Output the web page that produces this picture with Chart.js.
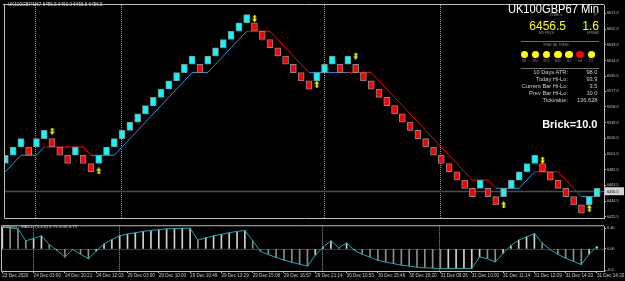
<!DOCTYPE html>
<html>
<head>
<meta charset="utf-8">
<title>UK100GBP,M67 renko</title>
<script src="https://cdn.jsdelivr.net/npm/chart.js@4.4.1/dist/chart.umd.min.js"></script>
<style>
  html, body { margin: 0; padding: 0; background: #000; }
  #wrap { position: relative; width: 625px; height: 281px; overflow: hidden; background: #000;
          font-family: "Liberation Sans", Arial, sans-serif; }
  canvas { position: absolute; left: 0; }
  #main { top: 0; }
  #osc { top: 223px; }
  .t { position: absolute; white-space: nowrap; line-height: 1; }
  .dot { position: absolute; width: 7.4px; height: 7.4px; border-radius: 50%; }
  .rule { position: absolute; height: 1px; background: #6e6e6e; }
</style>
</head>
<body>
<div id="wrap">
  <canvas id="main" width="625" height="223"></canvas>
  <canvas id="osc" width="625" height="58"></canvas>
</div>
<script>
// renko bricks (10 pts): low edge of each brick, left to right
const brickSize = 10;
const brickLow = [
  6490, 6500, 6510, 6500, 6510, 6520, 6510, 6500, 6490, 6500,
  6490, 6480, 6490, 6500, 6510, 6520, 6530, 6540, 6550, 6560,
  6570, 6580, 6590, 6600, 6610, 6600, 6610, 6620, 6630, 6640,
  6650, 6660, 6650, 6640, 6630, 6620, 6610, 6600, 6590, 6580,
  6590, 6600, 6610, 6600, 6610, 6600, 6590, 6580, 6570, 6560,
  6550, 6540, 6530, 6520, 6510, 6500, 6490, 6480, 6470, 6460,
  6450, 6460, 6450, 6440, 6450, 6460, 6470, 6480, 6490, 6480,
  6470, 6460, 6450, 6440, 6430, 6440, 6450
];

// trailing stop line and its side (1 = long / blue, -1 = short / red)
const stopLevel = [
  6480, 6490, 6500, 6500, 6500, 6510, 6510, 6510, 6510, 6510,
  6510, 6500, 6500, 6500, 6500, 6510, 6520, 6530, 6540, 6550,
  6560, 6570, 6580, 6590, 6600, 6600, 6600, 6610, 6620, 6630,
  6640, 6650, 6650, 6650, 6650, 6640, 6630, 6620, 6610, 6600,
  6600, 6600, 6600, 6600, 6600, 6600, 6600, 6600, 6590, 6580,
  6570, 6560, 6550, 6540, 6530, 6520, 6510, 6500, 6490, 6480,
  6470, 6470, 6470, 6460, 6460, 6460, 6460, 6470, 6480, 6480,
  6480, 6480, 6470, 6460, 6450, 6450, 6450
];
const stopSide = [
  1, 1, 1, 1, 1, 1,
  -1, -1, -1, -1, -1, -1,
  1, 1, 1, 1, 1, 1, 1, 1, 1, 1, 1, 1, 1, 1, 1, 1, 1, 1, 1, 1,
  -1, -1, -1, -1, -1, -1, -1, -1,
  1, 1, 1, 1, 1,
  -1, -1, -1, -1, -1, -1, -1, -1, -1, -1, -1, -1, -1, -1, -1, -1, -1, -1, -1,
  1, 1, 1, 1, 1,
  -1, -1, -1, -1, -1, -1,
  1, 1
];

// fractal arrows
const fracDownAt = [6, 32, 45, 69];
const fracDownPrice = [6529, 6665, 6620, 6494];
const fracUpAt = [12, 40, 64, 75];
const fracUpPrice = [6481, 6586, 6440, 6436];

// MACD (3,4,0) per brick
const macd = [
  6.7, 6.5, 6.2, 2.5, 3.2, 4.0, 1.3, -0.5, -2.6, -0.2,
  -1.7, -3.1, -0.7, 1.5, 2.9, 4.0, 4.6, 5.0, 5.4, 5.7,
  6.0, 6.2, 6.3, 6.4, 6.4, 2.7, 3.4, 4.0, 4.5, 5.0,
  5.4, 5.7, 2.5, -0.8, -1.8, -2.7, -3.5, -4.2, -4.8, -5.4,
  -2.0, 0.5, 2.5, 0.3, 1.8, -0.5, -1.7, -2.6, -3.6, -4.1,
  -4.6, -5.1, -5.4, -5.7, -5.9, -6.0, -6.1, -6.1, -6.1, -6.1,
  -6.1, -2.5, -3.1, -4.1, -1.4, 1.0, 2.7, 3.7, 4.7, 1.8,
  -0.2, -1.7, -2.9, -3.9, -4.9, -1.7, 0.8
];

const bidPrice = 6456.5;
const daySepAt = [4, 15, 41, 56];
const priceTicks = [6671.5, 6652.5, 6633.5, 6614.5, 6595.5, 6577.5, 6558.5,
  6539.5, 6520.5, 6501.5, 6482.5, 6463.5, 6444.5, 6425.5];
const macdTicks = [-6.6, 0, 6.4];
const macdTickLabels = ["-6.6", "0.00", "6.40"];
const timeTickAt = [0, 4, 8, 12, 16, 20, 24, 28, 32, 36, 40, 44, 48, 52, 56, 60, 64, 68, 72, 76];
const timeLabels = ["23 Dec 2020", "24 Dec 03:00", "24 Dec 10:21", "24 Dec 12:03", "29 Dec 03:00",
  "29 Dec 10:00", "29 Dec 10:49", "29 Dec 13:29", "29 Dec 15:08", "29 Dec 16:57", "29 Dec 21:14",
  "30 Dec 10:53", "30 Dec 15:46", "30 Dec 19:20", "31 Dec 09:26", "31 Dec 10:00", "31 Dec 11:14",
  "31 Dec 12:09", "31 Dec 14:20", "31 Dec 14:20"];

// info panel
const infoLabels = ["10 Days ATR:", "Today Hi-Lo:", "Current Bar Hi-Lo:", "Prev Bar Hi-Lo:", "Tickvalue:"];
const infoValues = ["98.0", "93.9", "3.5", "10.0", "136.628"];
const fractalTf = ["M1", "M5", "M15", "M30", "H1", "H4", "D1"];
const fractalTfUp = [true, true, true, true, true, false, true];

const COL = {
  up: "#00ffff",
  down: "#ff0000",
  edge: "#8a8a8a",
  stopUp: "#1e96e6",
  stopDown: "#ff0000",
  frame: "#bdbdbd",
  text: "#c8c8c8",
  sep: "#9c9c9c",
  yellow: "#ffff00",
  macdLine: "#1fa8a8",
  zero: "#c00000"
};

Chart.defaults.font.family = '"Liberation Sans", Arial, sans-serif';
Chart.defaults.animation = false;

const xMin = -0.04;
const xMax = 76.9;
const idx = brickLow.map((_, i) => i);

function arrowImg(up) {
  const c = document.createElement("canvas");
  c.width = 5;
  c.height = 7;
  const g = c.getContext("2d");
  g.fillStyle = COL.yellow;
  if (up) {
    g.translate(0, 7);
    g.scale(1, -1);
  }
  g.fillRect(2, 0, 1.4, 4.5);
  g.fillRect(0.8, 1.2, 3.6, 1);
  g.beginPath();
  g.moveTo(0, 3.8);
  g.lineTo(5, 3.8);
  g.lineTo(2.6, 7);
  g.closePath();
  g.fill();
  return c;
}

const panelPlugin = {
  id: "panel",
  beforeDatasetsDraw(chart, args, o) {
    const { ctx, chartArea: a, scales: { x, y } } = chart;
    ctx.save();
    ctx.lineWidth = 1;
    ctx.strokeStyle = COL.sep;
    ctx.setLineDash([1, 1]);
    daySepAt.forEach((i) => {
      const px = Math.round(x.getPixelForValue(i)) - 0.5;
      ctx.beginPath();
      ctx.moveTo(px, a.top);
      ctx.lineTo(px, a.bottom);
      ctx.stroke();
    });
    ctx.setLineDash([]);
    const py = Math.round(y.getPixelForValue(o.hline)) + 0.5;
    ctx.strokeStyle = o.hlineColor;
    ctx.lineWidth = o.hlineWidth || 1;
    ctx.beginPath();
    ctx.moveTo(a.left, py);
    ctx.lineTo(a.right, py);
    ctx.stroke();
    ctx.restore();
  },
  afterDraw(chart, args, o) {
    const { ctx, chartArea: a, scales: { y } } = chart;
    ctx.save();
    ctx.strokeStyle = COL.frame;
    ctx.lineWidth = 1;
    ctx.beginPath();
    ctx.moveTo(a.right, a.top - 0.5);
    ctx.lineTo(a.left - 0.5, a.top - 0.5);
    ctx.lineTo(a.left - 0.5, a.bottom + 0.5);
    ctx.lineTo(a.right, a.bottom + 0.5);
    ctx.stroke();
    if (o.tag) {
      const py = y.getPixelForValue(o.hline);
      ctx.fillStyle = "#d4d4d4";
      ctx.fillRect(a.right + 1, py - 4, 19, 8);
      ctx.fillStyle = "#000";
      ctx.font = '3.8px "Liberation Sans", Arial, sans-serif';
      ctx.textBaseline = "middle";
      ctx.fillText(o.tag, a.right + 3, py + 0.3);
    }
    ctx.restore();
  }
};

function rightAxis(min, max, values, fmt) {
  return {
    position: "right",
    min,
    max,
    afterBuildTicks: (s) => { s.ticks = values.map((v) => ({ value: v })); },
    afterFit: (s) => { s.width = 21; },
    ticks: { color: COL.text, font: { size: 3.8 }, padding: 1, autoSkip: false, callback: fmt },
    grid: { drawOnChartArea: false, color: COL.frame, tickLength: 2 },
    border: { color: COL.frame }
  };
}

new Chart(document.getElementById("main"), {
  type: "bar",
  data: {
    datasets: [
      {
        type: "line",
        data: idx.map((i) => ({ x: i, y: stopLevel[i] })),
        borderColor: COL.stopUp,
        borderWidth: 1,
        pointRadius: 0,
        segment: {
          borderColor: (c) => (stopSide[c.p1DataIndex] > 0 ? COL.stopUp : COL.stopDown)
        },
        order: 2
      },
      {
        type: "bar",
        data: idx.map((i) => ({ x: i, y: [brickLow[i], brickLow[i] + brickSize] })),
        backgroundColor: idx.map((i) => (i === 0 || brickLow[i] > brickLow[i - 1] ? COL.up : COL.down)),
        borderColor: COL.edge,
        borderWidth: 1,
        borderSkipped: false,
        barThickness: 6,
        order: 1
      },
      {
        type: "line",
        data: fracDownAt.map((x, k) => ({ x, y: fracDownPrice[k] })),
        showLine: false,
        pointStyle: arrowImg(false),
        order: 0
      },
      {
        type: "line",
        data: fracUpAt.map((x, k) => ({ x, y: fracUpPrice[k] })),
        showLine: false,
        pointStyle: arrowImg(true),
        order: 0
      }
    ]
  },
  options: {
    responsive: false,
    events: [],
    layout: { padding: { left: 2, top: 2, right: 0, bottom: 1 } },
    plugins: {
      legend: { display: false },
      tooltip: { enabled: false },
      panel: { hline: bidPrice, hlineColor: "#4b4b4b", hlineWidth: 1.5, tag: "6456.5" }
    },
    scales: {
      x: { type: "linear", min: xMin, max: xMax, offset: false, display: false },
      y: rightAxis(6424.1, 6681.7, priceTicks, (v) => v.toFixed(1))
    }
  },
  plugins: [panelPlugin]
});

new Chart(document.getElementById("osc"), {
  type: "bar",
  data: {
    datasets: [
      {
        type: "line",
        data: idx.map((i) => ({ x: i, y: macd[i] })),
        borderColor: COL.macdLine,
        borderWidth: 1,
        pointRadius: 0,
        order: 0
      },
      {
        type: "bar",
        data: idx.map((i) => ({ x: i, y: macd[i] })),
        backgroundColor: idx.map((i) => (i > 0 && macd[i] < macd[i - 1] ? "#8c8c8c" : "#d0d0d0")),
        barThickness: 1,
        order: 1
      }
    ]
  },
  options: {
    responsive: false,
    events: [],
    layout: { padding: { left: 2, top: 1, right: 0, bottom: 0 } },
    plugins: {
      legend: { display: false },
      tooltip: { enabled: false },
      panel: { hline: 0, hlineColor: COL.zero }
    },
    scales: {
      x: {
        type: "linear",
        min: xMin,
        max: xMax,
        offset: false,
        afterBuildTicks: (s) => { s.ticks = timeTickAt.map((v) => ({ value: v })); },
        afterFit: (s) => { s.height = 10; },
        ticks: {
          align: "start",
          autoSkip: false,
          maxRotation: 0,
          color: COL.text,
          font: { size: 4.6 },
          padding: 0,
          callback: (v, i) => timeLabels[i]
        },
        grid: { drawOnChartArea: false, offset: false, color: COL.frame, tickLength: 2 },
        border: { color: COL.frame }
      },
      y: rightAxis(-6.9, 7.0, macdTicks, (v, i) => macdTickLabels[i])
    }
  },
  plugins: [panelPlugin]
});

// text overlays
const wrap = document.getElementById("wrap");

function putText(txt, x, y, size, color, align, bold) {
  const d = document.createElement("div");
  d.className = "t";
  d.textContent = txt;
  d.style.fontSize = size + "px";
  d.style.color = color;
  if (bold) d.style.fontWeight = "bold";
  d.style.left = x + "px";
  d.style.top = (y - size / 2) + "px";
  const tx = align === "right" ? "-100%" : align === "center" ? "-50%" : "0";
  d.style.transform = `translateX(${tx})`;
  wrap.appendChild(d);
  return d;
}

function rule(x1, x2, y) {
  const r = document.createElement("div");
  r.className = "rule";
  r.style.left = x1 + "px";
  r.style.width = (x2 - x1) + "px";
  r.style.top = y + "px";
  wrap.appendChild(r);
}

// chart caption
const tri = document.createElement("div");
tri.style.cssText = "position:absolute;left:3px;top:4px;width:0;height:0;border-left:1.6px solid transparent;border-right:1.6px solid transparent;border-top:2.4px solid #d0d0d0;";
wrap.appendChild(tri);
putText("UK100GBP,M67  6456.5 6460.0 6456.5 6456.5", 8, 5.2, 4.6, "#d0d0d0", "left");
putText("FXbars - MACD (3,4,0) 0.75 0.00 0.75", 3, 227, 4.4, "#d0d0d0", "left");

// symbol block
const sym = putText("UK100GBP67 Min", 599, 8.8, 12.4, "#ffffff", "right");
sym.style.transformOrigin = "100% 50%";
sym.style.transform = "translateX(-100%) scaleX(0.9)";
putText("SYMBOL", 556, 15.2, 3.1, "#8c8c8c", "center");
putText("TF", 595.5, 15.2, 3.1, "#8c8c8c", "center");
putText("6456.5", 566, 25.6, 12, COL.yellow, "right");
putText("1.6", 599, 25.6, 12, COL.yellow, "right");
putText("BID PRICE", 546.5, 33.3, 3.1, "#8c8c8c", "center");
putText("SPREAD", 593, 33.3, 3.1, "#8c8c8c", "center");
rule(521, 599, 41);
putText("FRACTAL TREND", 556.5, 45.3, 3.2, "#8c8c8c", "center");
fractalTf.forEach((tf, k) => {
  const cx = 524.3 + k * 11.17;
  const d = document.createElement("div");
  d.className = "dot";
  d.style.left = (cx - 3.7) + "px";
  d.style.top = (54.3 - 3.7) + "px";
  d.style.background = fractalTfUp[k] ? COL.yellow : "#ff0000";
  wrap.appendChild(d);
  putText(tf, cx, 62, 3.1, "#8c8c8c", "center");
});
rule(521, 599, 68);
infoLabels.forEach((lab, k) => {
  const y = 72.7 + k * 7.15;
  putText(lab, 568, y, 5.7, "#cfcfcf", "right");
  putText(infoValues[k], 597.5, y, 5.7, "#cfcfcf", "right");
});
putText("Brick=10.0", 597.5, 124.2, 11, "#ffffff", "right", true);
</script>
</body>
</html>
